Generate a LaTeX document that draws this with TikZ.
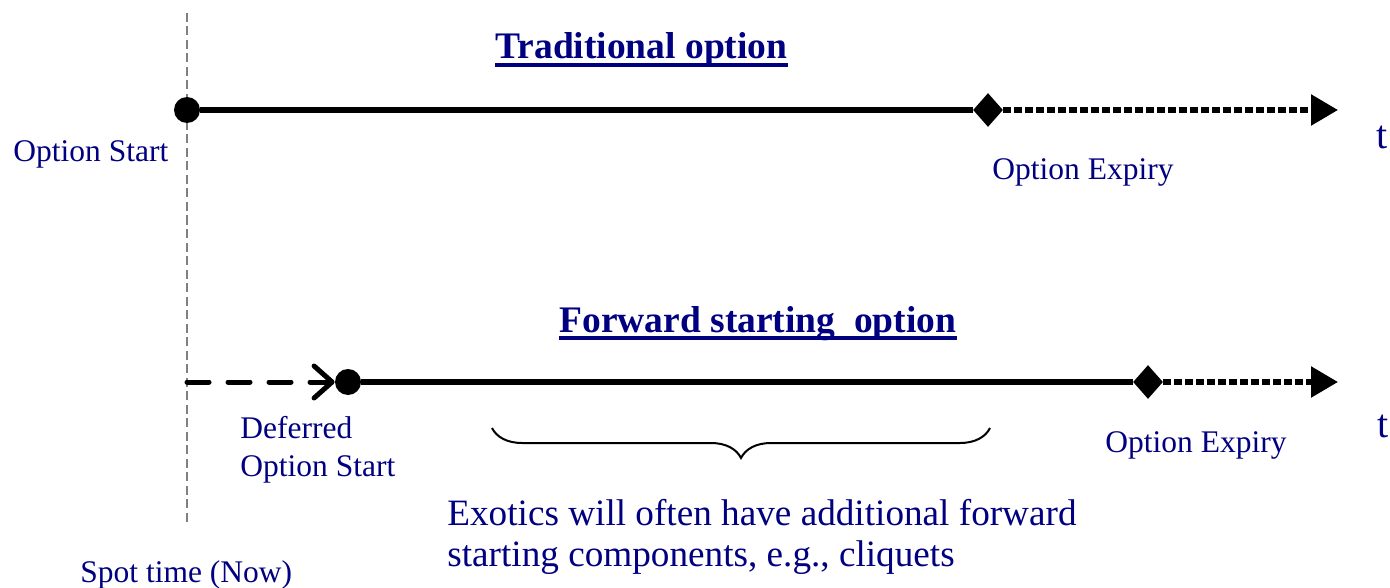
\documentclass[tikz,border=0pt]{standalone}
\usepackage{fontspec}
\setmainfont{Liberation Serif}
\usetikzlibrary{arrows.meta,shapes.geometric,decorations.pathreplacing}
\definecolor{navy}{RGB}{0,0,128}
\begin{document}
\begin{tikzpicture}[x=0.5pt,y=-0.5pt,
  vline/.style={draw=gray,line width=1pt,dash pattern=on 4.5pt off 2.25pt},
  solidln/.style={draw=black,line width=3pt},
  dotln/.style={draw=black,line width=2.75pt,dash pattern=on 4pt off 1.5pt,-{Triangle[length=13.5pt,width=15pt]}},
  dashln/.style={draw=black,line width=2.5pt,line cap=round,dash pattern=on 11pt off 9.5pt,-{Straight Barb[length=9pt,width=16pt,round]}},
  dot/.style={circle,fill=black,inner sep=0pt,minimum size=13pt},
  dia/.style={diamond,fill=black,inner sep=0pt,minimum width=15pt,minimum height=17pt},
  lbl/.style={text=navy,inner sep=0pt,font=\fontsize{15.75}{19}\selectfont},
  ttl/.style={text=navy,inner sep=0pt,font=\fontsize{18.75}{22}\selectfont\bfseries},
  tlbl/.style={text=navy,inner sep=0pt,font=\fontsize{20}{24}\selectfont},
  big/.style={text=navy,inner sep=0pt,font=\fontsize{18.6}{20.5}\selectfont},
  ul/.style={draw=navy,line width=2pt},
  brc/.style={draw=black,line width=1pt,decorate,decoration={brace,mirror,amplitude=15pt}}
]
\path[use as bounding box] (0,0) rectangle (1390,588);

% spot time vertical line
\coordinate (vtop) at (187,13);
\coordinate (vbot) at (187,525);
\draw[vline] (vtop) -- (vbot);

% traditional option
\node[ttl,anchor=base west] (title1) at (495,59) {Traditional option};
\draw[ul] ([yshift=-3pt]title1.base west) -- ([yshift=-3pt]title1.base east);
\node[dot] (s1) at (187,110) {};
\node[dia] (e1) at (988,110) {};
\coordinate (t1end) at (1338,110);
\draw[solidln] (s1) -- (e1);
\draw[dotln] (e1.east) -- (t1end);
\node[lbl,anchor=base west] (ostart) at (13,162) {Option Start};
\node[lbl,anchor=base west] (oexp1) at (992,180) {Option Expiry};
\node[tlbl,anchor=base west] (t1) at (1376,149) {t};

% forward starting option
\node[ttl,anchor=base west] (title2) at (559,332) {Forward starting\ \ option};
\draw[ul] ([yshift=-3pt]title2.base west) -- ([yshift=-3pt]title2.base east);
\coordinate (fs) at (187,382);
\node[dot] (s2) at (348,382) {};
\node[dia] (e2) at (1148,382) {};
\coordinate (t2end) at (1338,382);
\draw[dashln] (fs) -- (s2);
\draw[solidln] (s2) -- (e2);
\draw[dotln] (e2.east) -- (t2end);
\node[lbl,anchor=base west,align=left] (dstart) at (240,476) {Deferred\\Option Start};
\node[lbl,anchor=base west] (oexp2) at (1105,452) {Option Expiry};
\node[tlbl,anchor=base west] (t2) at (1377,437) {t};

% brace and note
\coordinate (bl) at (492,428);
\coordinate (br) at (990,428);
\draw[brc] (bl) -- (br);
\node[big,anchor=base west,align=left] (note) at (447,566) {Exotics will often have additional forward\\starting components, e.g., cliquets};

\node[lbl,anchor=base west] (spot) at (80,582) {Spot time (Now)};
\end{tikzpicture}
\end{document}
